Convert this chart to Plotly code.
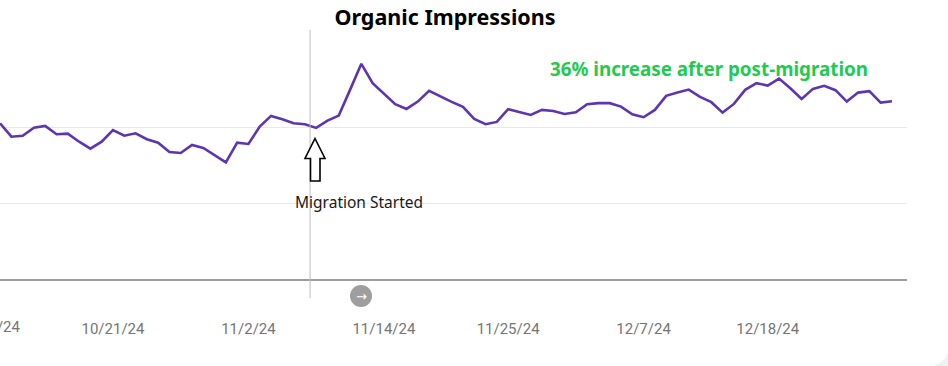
import plotly.graph_objects as go
import pandas as pd

# ---- data ----
start_date = "2024-10-11"
end_date = "2024-12-29"
impressions = [
    2050, 1873, 1886, 1992, 2014, 1905, 1913, 1807, 1715, 1807,
    1961, 1886, 1918, 1839, 1794, 1671, 1658, 1764, 1724, 1632,
    1535, 1794, 1777, 2005, 2146, 2102, 2050, 2037, 1988, 2084,
    2150, 2489, 2832, 2577, 2432, 2300, 2238, 2335, 2476, 2401,
    2331, 2265, 2106, 2037, 2067, 2234, 2195, 2159, 2225, 2212,
    2172, 2195, 2300, 2314, 2314, 2269, 2168, 2129, 2225, 2410,
    2453, 2493, 2397, 2327, 2190, 2304, 2489, 2577, 2546, 2638,
    2511, 2370, 2502, 2542, 2485, 2335, 2453, 2472, 2321, 2340,
]
tick_dates = ["2024-10-10", "2024-10-21", "2024-11-02", "2024-11-14",
              "2024-11-25", "2024-12-07", "2024-12-18"]
tick_labels = ["10/10/24", "10/21/24", "11/2/24", "11/14/24",
               "11/25/24", "12/7/24", "12/18/24"]
migration_date = "2024-11-07 11:00"
title_text = "Organic Impressions"
migration_text = "Migration Started"
increase_text = "36% increase after post-migration"

dates = pd.date_range(start_date, end_date, freq="D")

# ---- layout geometry ----
W, H = 948, 366
ML, MR, MT, MB = 0, 41, 51, 87
PW, PH = W - ML - MR, H - MT - MB
x_range = [pd.Timestamp("2024-10-10 23:50"), pd.Timestamp("2024-12-30 08:00")]


def px(x):
    return (x - ML) / PW


def py(y):
    return (H - MB - y) / PH


def date_to_paper(d):
    d = pd.Timestamp(d)
    return (d - x_range[0]) / (x_range[1] - x_range[0])


fig = go.Figure()
fig.add_trace(go.Scatter(
    x=dates, y=impressions, mode="lines",
    line=dict(color="#5e35b1", width=2.6),
    hoverinfo="skip", showlegend=False,
))

shapes = []
# gap in middle gridline
shapes.append(dict(type="rect", xref="paper", yref="paper",
                   x0=px(347), x1=px(376), y0=py(129.5), y1=py(124.5),
                   fillcolor="white", line=dict(width=0), layer="between"))
# migration vertical line
shapes.append(dict(type="line", xref="x", yref="paper",
                   x0=migration_date, x1=migration_date,
                   y0=py(298), y1=py(30),
                   line=dict(color="#bdbdbd", width=1)))
# hollow up arrow
pts = [(315, 138.5), (325, 158.5), (320, 158.5), (320, 181), (310.5, 181),
       (310.5, 158.5), (305, 158.5)]
path = "M " + " L ".join(f"{px(a):.5f},{py(b):.5f}" for a, b in pts) + " Z"
shapes.append(dict(type="path", xref="paper", yref="paper", path=path,
                   fillcolor="white", line=dict(color="black", width=1.6)))
# circle icon
shapes.append(dict(type="circle", xref="paper", yref="paper",
                   x0=px(350), x1=px(372), y0=py(307), y1=py(285),
                   fillcolor="#9e9e9e", line=dict(width=0)))
# page corner background
corner = (f"M {px(949):.5f},{py(347):.5f} Q {px(947):.5f},{py(365):.5f} "
          f"{px(927):.5f},{py(367):.5f} L {px(949):.5f},{py(367):.5f} Z")
shapes.append(dict(type="path", xref="paper", yref="paper", path=corner,
                   fillcolor="#eef1f6", line=dict(width=0)))

annotations = [
    dict(text=migration_text, xref="paper", yref="paper", x=px(359), y=py(201.5),
         showarrow=False, font=dict(family="Noto Sans", size=15.5, color="#1a1a1a"),
         xanchor="center", yanchor="middle"),
    dict(text=f"<b>{increase_text}</b>", xref="paper", yref="paper",
         x=px(709), y=py(68.5), showarrow=False,
         font=dict(family="Noto Sans", size=18.8, color="#1fcb4f"),
         xanchor="center", yanchor="middle"),
    dict(text="→", xref="paper", yref="paper", x=px(361), y=py(296),
         showarrow=False, font=dict(family="DejaVu Sans", size=13, color="white"),
         xanchor="center", yanchor="middle"),
    # partially visible first tick label (left of the plot edge)
    dict(text=tick_labels[0], xref="paper", yref="paper",
         x=date_to_paper(tick_dates[0]), y=py(327), showarrow=False,
         font=dict(family="Roboto", size=15, color="#757575"),
         xanchor="center", yanchor="middle"),
]

fig.update_layout(
    width=W, height=H,
    margin=dict(l=ML, r=MR, t=MT, b=MB, autoexpand=False),
    paper_bgcolor="white", plot_bgcolor="white",
    template="none",
    title=dict(text=f"<b>{title_text}</b>", x=445 / W, xanchor="center",
               y=1 - 17 / H, yanchor="middle",
               font=dict(family="Noto Sans", size=21.5, color="black")),
    xaxis=dict(range=x_range, tickmode="array",
               tickvals=tick_dates[1:], ticktext=tick_labels[1:],
               showgrid=False, zeroline=False, showline=True,
               linecolor="#9e9e9e", linewidth=2, ticks="",
               ticklabelstandoff=35, automargin=False,
               tickfont=dict(family="Roboto", size=15, color="#757575")),
    yaxis=dict(range=[0, 3000.5], tickvals=[1000, 2000, 3000],
               showticklabels=False, showgrid=True, gridcolor="#e8e8e8",
               gridwidth=1, zeroline=False, showline=False, ticks="",
               automargin=False),
    shapes=shapes, annotations=annotations,
    showlegend=False,
)

fig.write_html("out.html",
               config={"displayModeBar": False},
               post_script="document.body.style.margin='0';"
                           "document.body.style.padding='0';")
